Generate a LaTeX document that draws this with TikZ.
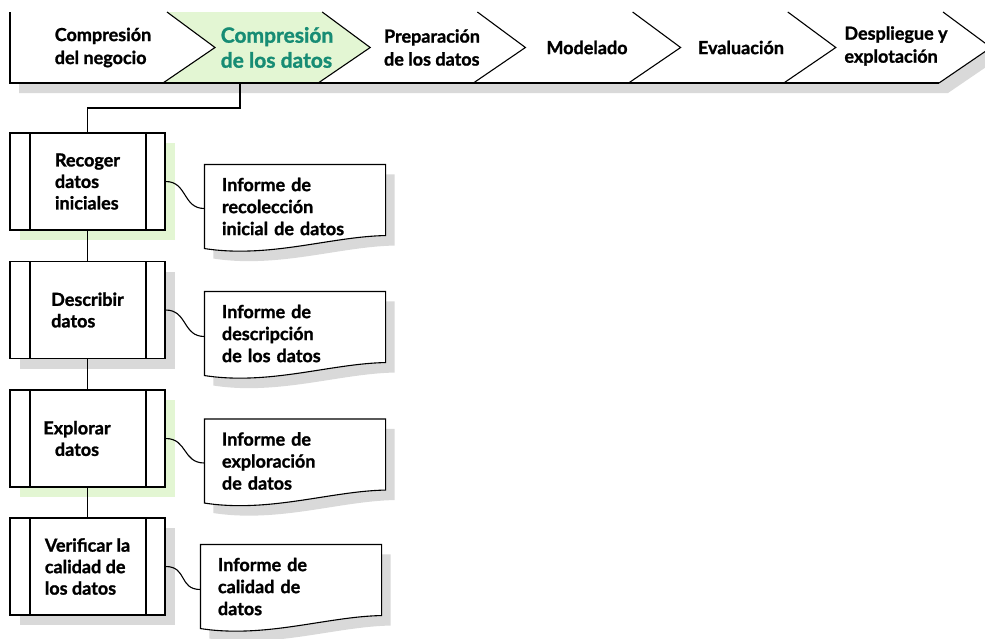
\documentclass[tikz,border=0pt]{standalone}
\usepackage{fontspec}
\setmainfont{Lato}[BoldFeatures={FakeBold=1.3}]
\usetikzlibrary{calc,shadows}
\definecolor{verdeclaro}{HTML}{E3F6D3}
\definecolor{verdetexto}{HTML}{178C74}
\definecolor{gris}{HTML}{D9D9D9}
\def\hoja(#1){%
  \fill[gris] ($(#1.north west)+(9,10)$) -- ($(#1.north east)+(9,10)$) -- ($(#1.south east)+(9,-3)$) .. controls ($(#1.south east)+(-46,-2)$) and ($(#1.south west)+(74,20)$) .. ($(#1.south west)+(9,10)$) -- cycle;
  \draw[fill=white] (#1.north west) -- (#1.north east) -- ($(#1.south east)+(0,-13)$) .. controls ($(#1.south east)+(-55,-12)$) and ($(#1.south west)+(65,10)$) .. (#1.south west) -- cycle;}

\begin{document}
\begin{tikzpicture}[x=1pt, y=-1pt, line width=1.1pt,
  fase/.style={align=left, font=\fontsize{18}{23}\selectfont\bfseries},
  fasesel/.style={text=verdetexto, font=\fontsize{21}{25}\selectfont\bfseries},
  proceso/.style={draw, fill=white, minimum width=155pt, minimum height=97pt, inner sep=0pt, align=left,
    font=\fontsize{18}{21.5}\selectfont\bfseries,
    path picture={
      \draw ([xshift=20pt]path picture bounding box.north west) -- ([xshift=20pt]path picture bounding box.south west);
      \draw ([xshift=-19pt]path picture bounding box.north east) -- ([xshift=-19pt]path picture bounding box.south east);}},
  sombraverde/.style={drop shadow={shadow xshift=10pt, shadow yshift=-10pt, fill=verdeclaro, opacity=1}},
  sombragris/.style={drop shadow={shadow xshift=10pt, shadow yshift=-10pt, fill=gris, opacity=1}},
  informe/.style={minimum height=83pt, text width=146pt, inner xsep=17pt, inner ysep=0pt, align=left,
    font=\fontsize{18}{22}\selectfont\bfseries},
  enlace/.style={line width=1.1pt}]
  \useasboundingbox (0,0) rectangle (985,638);
  %%%%% FASES %%%%%
  \fill[gris] (19,22) -- (952,22) -- (1000,57.5) -- (948,93) -- (19,93) -- cycle;
  \fill[white] (10,12) -- (943,12) -- (991,47.5) -- (939,83) -- (10,83) -- cycle;
  \fill[verdeclaro] (167,12) -- (215,47.5) -- (163,83) -- (318.2,83) -- (370.2,47.5) -- (322.2,12) -- cycle;
  \draw (10,12) -- (10,83) -- (939,83);
  \foreach \t in {167,322.2,477.4,632.6,787.8,943}
    \draw (\t,12) -- (\t+48,47.5) -- (\t-4,83);

  \node[fase] (negocio) at (103,47.5) {Compresión\\del negocio};
  \node[fase, fasesel] (datos) at (277,47.5) {Compresión\\de los datos};
  \node[fase] (preparacion) at (432,47.5) {Preparación\\de los datos};
  \node[fase] (modelado) at (587,47.5) {Modelado};
  \node[fase] (evaluacion) at (741,47.5) {Evaluación};
  \node[fase] (despliegue) at (896,46) {Despliegue y\\explotación};

  %%%%% TAREAS %%%%%
  \node[proceso, sombraverde] (recoger) at (87.5,181.5) {Recoger\\datos\\iniciales};
  \node[proceso, sombragris] (describir) at (87.5,310) {Describir\\datos};
  \node[proceso, sombraverde] (explorar) at (87.5,438.5) {};
  \node[font=\fontsize{18}{21.5}\selectfont\bfseries, align=center] (explorarTexto) at (77,438.5) {Explorar\\datos};
  \node[proceso, sombragris] (verificar) at (87.5,566.5) {Verificar la\\calidad de\\los datos};

  \coordinate (salida) at (240,83);
  \draw (salida) -- ++(0,25) -| (recoger.north);
  \draw (recoger) -- (describir);
  \draw (describir) -- (explorar);
  \draw (explorar) -- (verificar);

  %%%%% INFORMES %%%%%
  \node[informe] (infRecoger) at (295,206.5) {};
  \hoja(infRecoger);
  \node[informe] at (infRecoger) {Informe de\\recolección\\inicial de datos};
  \node[informe] (infDescribir) at (295,333.5) {};
  \hoja(infDescribir);
  \node[informe] at (infDescribir) {Informe de\\descripción\\de los datos};
  \node[informe] (infExplorar) at (295,461) {};
  \hoja(infExplorar);
  \node[informe] at (infExplorar) {Informe de\\exploración\\de datos};
  \node[informe] (infVerificar) at (291,586.5) {};
  \hoja(infVerificar);
  \node[informe] at (infVerificar) {Informe de\\calidad de\\datos};

  \draw[enlace] (recoger.east) .. controls +(22,0) and +(-22,0) .. ([yshift=-2pt]infRecoger.west);
  \draw[enlace] (describir.east) .. controls +(22,0) and +(-22,0) .. ([yshift=-3pt]infDescribir.west);
  \draw[enlace] (explorar.east) .. controls +(22,0) and +(-22,0) .. ([yshift=-2pt]infExplorar.west);
  \draw[enlace] (verificar.east) .. controls +(22,0) and +(-22,0) .. ([yshift=-3pt]infVerificar.west);
\end{tikzpicture}
\end{document}
